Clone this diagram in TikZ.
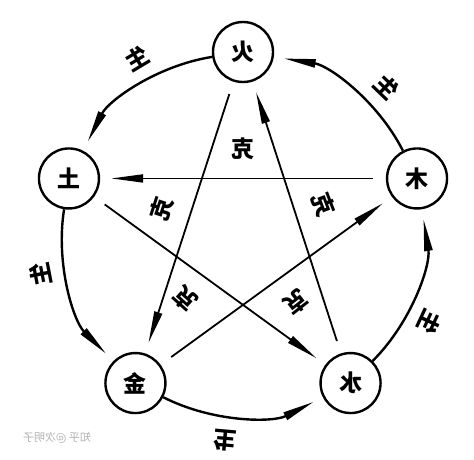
\documentclass[tikz,border=0pt]{standalone}
\usepackage{fontspec}
\usepackage{tikz}
\usetikzlibrary{arrows.meta}
\newfontfamily\cjkFont{Noto Sans CJK SC}
\tikzstyle{wuxing} = [x = 1pt, y = 1pt, >={Triangle[length=32pt, width=8pt]}]
\tikzstyle{elementStyle} = [circle, draw, line width=2.4pt, minimum size=60pt, inner sep=0pt, font=\cjkFont\bfseries\fontsize{23}{23}\selectfont]
\tikzstyle{shengLine} = [line width=2.4pt, ->, bend right=27, looseness=0.9, shorten >=10pt]
\tikzstyle{keLine} = [line width=1.8pt, ->, shorten <=13pt, shorten >=11pt]
\tikzstyle{labelText} = [inner sep=1pt, font=\cjkFont\bfseries\fontsize{23}{23}\selectfont]
\tikzstyle{markText} = [inner sep=0pt, text=black!30, font=\cjkFont\fontsize{11}{11}\selectfont]
\newcommand{\bigR}{183}
\newcommand{\element}[3]{\node [elementStyle] (#1) at (#2:\bigR) {\reflectbox{#3}};}
\newcommand{\shengLabel}[2]{\node [labelText, rotate=#2-90] (#1) at (#2:206) {\reflectbox{生}};}
\newcommand{\keLabel}[2]{\node [labelText, rotate=#2-90] (#1) at (#2:86) {\reflectbox{克}};}

\begin{document}
\begin{tikzpicture}[wuxing]
  \useasboundingbox (0,0) rectangle (474,459);
  \begin{scope}[shift={(243,224)}]
    % the five elements
    \element{huo}{90}{火}
    \element{tu}{162}{土}
    \element{jin}{234}{金}
    \element{shui}{306}{水}
    \element{mu}{18}{木}

    % generating cycle
    \draw [shengLine] (mu) to (huo);
    \draw [shengLine] (huo) to (tu);
    \draw [shengLine] (tu) to (jin);
    \draw [shengLine] (jin) to (shui);
    \draw [shengLine] (shui) to (mu);
    \shengLabel{shengMuHuo}{46}
    \shengLabel{shengHuoTu}{121}
    \shengLabel{shengTuJin}{191}
    \shengLabel{shengJinShui}{265}
    \shengLabel{shengShuiMu}{335}

    % overcoming star
    \draw [keLine] (mu) -- (tu);
    \draw [keLine] (tu) -- (shui);
    \draw [keLine] (shui) -- (huo);
    \draw [keLine] (huo) -- (jin);
    \draw [keLine] (jin) -- (mu);
    \keLabel{keTop}{90}
    \keLabel{keLeft}{162}
    \keLabel{keRight}{21}
    \keLabel{keBottomLeft}{228}
    \keLabel{keBottomRight}{308}
  \end{scope}
  \node [markText] (mark) at (57,21) {\reflectbox{知乎 @次明子}};
\end{tikzpicture}
\end{document}
